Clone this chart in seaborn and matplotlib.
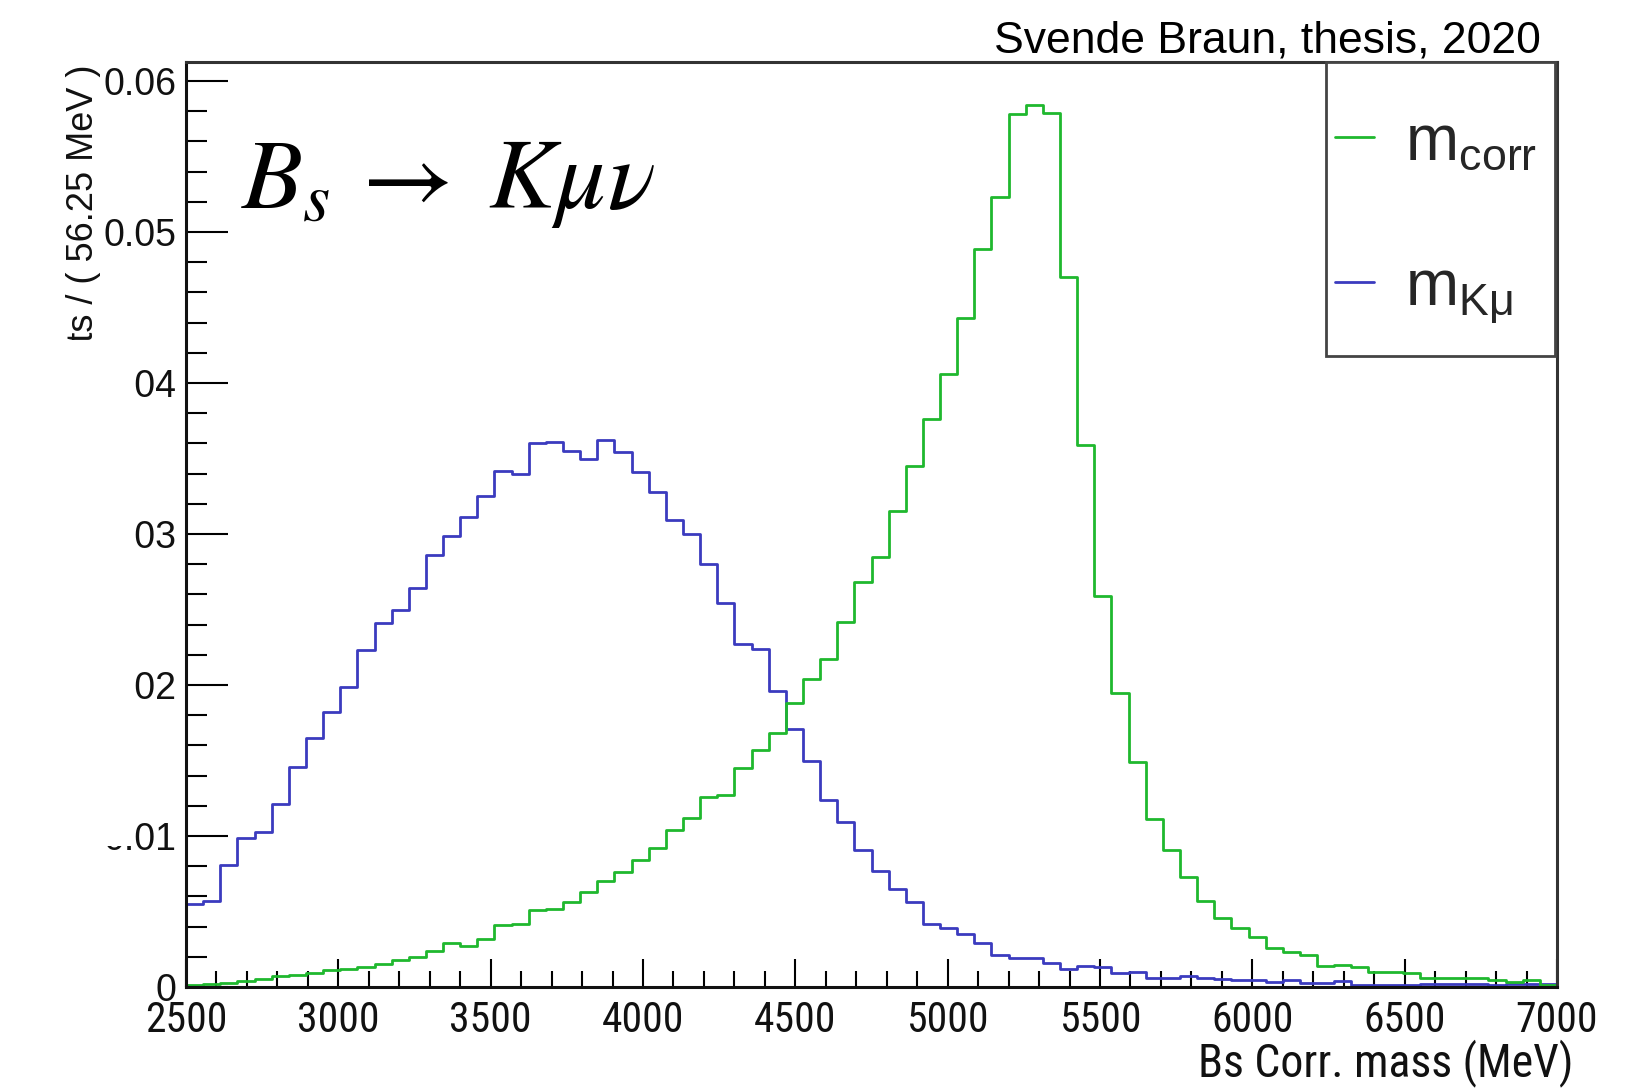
import numpy as np
import pandas as pd
import matplotlib
matplotlib.use("Agg")
import matplotlib.pyplot as plt
from matplotlib import font_manager as fm
from matplotlib.lines import Line2D
from matplotlib.patches import Rectangle
import seaborn as sns

# ---------------- data ----------------
x_min, x_max, n_bins = 2500.0, 7000.0, 80
bin_width = 56.25

m_kmu = [0.0055, 0.0057, 0.0081, 0.0099, 0.0103, 0.0121, 0.0146, 0.0165, 0.0182, 0.0199,
         0.0223, 0.0241, 0.0250, 0.0264, 0.0286, 0.0299, 0.0311, 0.0325, 0.0342, 0.0340,
         0.0360, 0.0361, 0.0355, 0.0350, 0.0362, 0.0354, 0.0341, 0.0328, 0.0309, 0.0300,
         0.0280, 0.0254, 0.0227, 0.0224, 0.0196, 0.0171, 0.0150, 0.0124, 0.0109, 0.0091,
         0.0077, 0.0065, 0.0056, 0.0042, 0.0039, 0.0035, 0.0029, 0.0021, 0.0019, 0.0019,
         0.0016, 0.0012, 0.0014, 0.0013, 0.0009, 0.0010, 0.0006, 0.0006, 0.0007, 0.0006,
         0.0005, 0.00045, 0.00045, 0.00035, 0.00045, 0.0003, 0.0003, 0.0004, 0.00016, 0.00016,
         0.00016, 0.00016, 0.0002, 0.0002, 0.0002, 0.0002, 0.00012, 0.0002, 0.0002, 0.0002]

m_corr = [0.00015, 0.0002, 0.0003, 0.0004, 0.0005, 0.0007, 0.0008, 0.0009, 0.0011, 0.0012,
          0.0013, 0.0015, 0.0018, 0.0020, 0.0024, 0.0029, 0.0027, 0.0032, 0.0041, 0.0042,
          0.0051, 0.0052, 0.0056, 0.0063, 0.0070, 0.0076, 0.0084, 0.0092, 0.0104, 0.0112,
          0.0126, 0.0127, 0.0145, 0.0157, 0.0168, 0.0188, 0.0204, 0.0217, 0.0242, 0.0268,
          0.0285, 0.0315, 0.0345, 0.0376, 0.0406, 0.0443, 0.0489, 0.0523, 0.0578, 0.0584,
          0.0579, 0.0470, 0.0359, 0.0259, 0.0195, 0.0149, 0.0111, 0.0091, 0.0073, 0.0057,
          0.0046, 0.0039, 0.0033, 0.0026, 0.0023, 0.0021, 0.0014, 0.00145, 0.0013, 0.0010,
          0.0010, 0.0009, 0.0006, 0.0006, 0.0006, 0.0006, 0.00044, 0.00033, 0.00044, 0.00016]

x_ticks = [2500, 3000, 3500, 4000, 4500, 5000, 5500, 6000, 6500, 7000]
y_ticks = [0.0, 0.01, 0.02, 0.03, 0.04, 0.05, 0.06]
y_tick_labels = ["0", "0.01", "0.02", "0.03", "0.04", "0.05", "0.06"]

legend_labels = [r"m$_\mathregular{corr}$", r"m$_\mathregular{K\mu}$"]
title_text = "Svende Braun, thesis, 2020"
decay_text = r"$B_s\,\rightarrow\;K\mu\nu$"
x_title = "Bs Corr. mass (MeV)"
y_title = "Events / ( 56.25 MeV )"

# ---------------- style ----------------
sns.set_theme(style="ticks")
plt.rcParams["font.family"] = ["Liberation Sans", "DejaVu Sans"]

# pick a condensed sans face for the axis numbers / x title if one is installed
cond_family, cond_stretch = None, "normal"
font_names = {f.name for f in fm.fontManager.ttflist}
for cand in ["Liberation Sans Narrow", "Arial Narrow", "Roboto Condensed",
             "Noto Sans Condensed", "Open Sans Condensed", "DejaVu Sans Condensed"]:
    if cand in font_names:
        cond_family = cand
        break
if cond_family is None:
    for f in fm.fontManager.ttflist:
        if (f.stretch in ("condensed", "semi-condensed") and f.style == "normal"
                and str(f.weight) in ("400", "normal", "regular")
                and any(k in f.name for k in ["Sans", "Roboto", "Lato", "Inter"])):
            cond_family, cond_stretch = f.name, f.stretch
            break
if cond_family is None:
    cond_family = "Liberation Sans"
    xtick_size, xtitle_size = 28, 30
else:
    xtick_size, xtitle_size = 30, 33

col_corr = "#1fb82e"
col_kmu = "#3b3bbf"

centers = x_min + bin_width * (np.arange(n_bins) + 0.5)
df_kmu = pd.DataFrame({"mass": centers, "weight": m_kmu})
df_corr = pd.DataFrame({"mass": centers, "weight": m_corr})

fig = plt.figure(figsize=(16.29, 10.88), dpi=100)
ax = fig.add_axes([0.1142, 0.0928, 0.8416, 0.8502])

sns.histplot(data=df_kmu, x="mass", weights="weight", binwidth=bin_width,
             binrange=(x_min, x_max), element="step", fill=False, color=col_kmu,
             linewidth=2.0, ax=ax)
sns.histplot(data=df_corr, x="mass", weights="weight", binwidth=bin_width,
             binrange=(x_min, x_max), element="step", fill=False, color=col_corr,
             linewidth=2.0, ax=ax)

ax.set_xlim(x_min, x_max)
ax.set_ylim(0, 0.06126)
ax.set_xlabel("")
ax.set_ylabel("")

ax.set_xticks(x_ticks)
ax.set_xticks(np.arange(2500, 7001, 100), minor=True)
ax.set_yticks(y_ticks)
ax.set_yticks(np.arange(0, 0.0612, 0.002), minor=True)
ax.set_yticklabels(y_tick_labels)
ax.set_xticklabels([str(v) for v in x_ticks])

for lab in ax.get_xticklabels():
    lab.set_family([cond_family, "Liberation Sans", "DejaVu Sans"])
    lab.set_stretch(cond_stretch)
    lab.set_fontsize(xtick_size)
    lab.set_color("#111111")
for lab in ax.get_yticklabels():
    lab.set_fontsize(27)
    lab.set_color("#111111")

ax.tick_params(axis="x", which="major", direction="in", length=20, width=1.5, color="black", pad=9)
ax.tick_params(axis="x", which="minor", direction="in", length=11.5, width=1.5, color="black")
ax.tick_params(axis="y", which="major", direction="in", length=30, width=1.5, color="black", pad=7)
ax.tick_params(axis="y", which="minor", direction="in", length=15, width=1.5, color="black")
ax.tick_params(top=False, right=False, which="both")

for side in ["left", "bottom", "top", "right"]:
    ax.spines[side].set_visible(True)
    ax.spines[side].set_linewidth(2.2)
    ax.spines[side].set_color("#333333")
ax.spines["left"].set_color("#111111")
ax.spines["bottom"].set_color("#111111")

# legend: box + entries
ax.add_patch(Rectangle((1326 / 1629, 1 - 356 / 1088), (1555 - 1326) / 1629, (356 - 62) / 1088,
                       transform=fig.transFigure, facecolor="white", edgecolor="#444444",
                       linewidth=2.0, zorder=4, clip_on=False))
handles = [Line2D([0], [0], color=col_corr, lw=2.0), Line2D([0], [0], color=col_kmu, lw=2.0)]
leg = ax.legend(handles, legend_labels, loc="center left",
                bbox_to_anchor=(1335 / 1629, 1 - 219 / 1088), bbox_transform=fig.transFigure,
                frameon=False, borderpad=0.0, borderaxespad=0.0,
                prop={"family": "Liberation Sans", "size": 46},
                handlelength=0.61, handletextpad=0.48, labelspacing=1.33)
leg.set_zorder(6)

# title / annotations
fig.text(1541 / 1629, 1 - 52 / 1088, title_text, ha="right", va="baseline",
         fontsize=32, color="black")
fig.text(241 / 1629, 1 - 208 / 1088, decay_text, ha="left", va="baseline",
         fontsize=72, math_fontfamily="stix", color="black")
fig.text(1574 / 1629, 1 - 1063 / 1088, x_title, ha="right", va="center",
         fontsize=xtitle_size, family=[cond_family, "Liberation Sans", "DejaVu Sans"],
         stretch=cond_stretch, color="#111111")
fig.text(84 / 1629, 1 - 64 / 1088, y_title, ha="center", va="top", rotation=90,
         fontsize=26, color="#111111")

# white mask that hides part of the left margin (as in the reference)
fig.add_artist(Rectangle((0, 1 - 846 / 1088), 135 / 1629, (846 - 340) / 1088,
                         transform=fig.transFigure, facecolor="white", edgecolor="none",
                         zorder=10))

fig.savefig("out.png", dpi=100, facecolor="white")
